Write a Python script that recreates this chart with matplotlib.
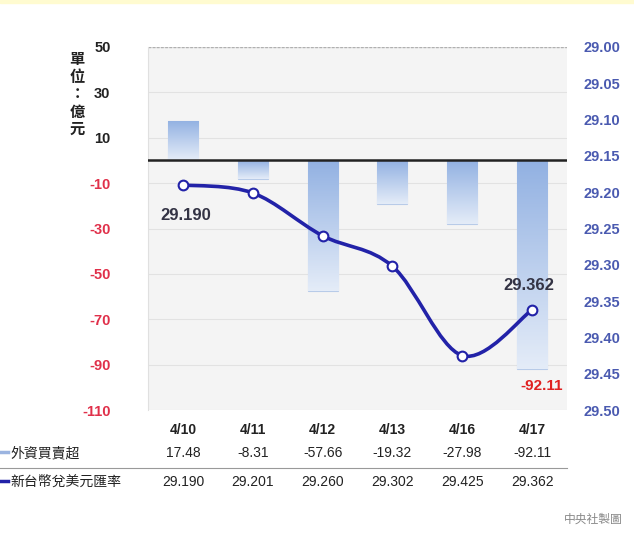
import numpy as np
import matplotlib
matplotlib.use("Agg")
import matplotlib.pyplot as plt
from matplotlib.path import Path
from matplotlib.patches import PathPatch, Rectangle
import matplotlib.transforms as mtransforms

plt.rcParams['font.family'] = ['Liberation Sans', 'Noto Sans CJK TC', 'DejaVu Sans']

# datos del grafico
fechas = ["4/10", "4/11", "4/12", "4/13", "4/16", "4/17"]
compra_venta = [17.48, -8.31, -57.66, -19.32, -27.98, -92.11]
tipo_cambio = [29.190, 29.201, 29.260, 29.302, 29.425, 29.362]
ticks_izq = [50, 30, 10, -10, -30, -50, -70, -90, -110]
ticks_der = [29.00, 29.05, 29.10, 29.15, 29.20, 29.25, 29.30, 29.35, 29.40, 29.45, 29.50]

W, H = 634, 534
fig = plt.figure(figsize=(W / 100, H / 100), dpi=100)
fig.patch.set_facecolor("white")

# franja amarilla arriba
fig.patches.append(Rectangle((0, 1 - 3 / H), 1, 3 / H, transform=fig.transFigure,
                             color="#fffbd0", zorder=0))

ax = fig.add_axes([148 / W, 124 / H, 419 / W, 363 / H])
ax.set_facecolor("#f4f4f4")
x = np.arange(len(fechas))
ax.set_xlim(-0.5, len(fechas) - 0.5)
ax.set_ylim(-110, 50)

for y in ticks_izq:
    ax.axhline(y, color="#e2e2e2", lw=0.8, zorder=1)
ax.axhline(50, color="#b0b0b0", lw=1, ls=(0, (2, 1)), zorder=2)
ax.axhline(0, color="#222222", lw=1.8, zorder=4)

for s in ["top", "right", "bottom"]:
    ax.spines[s].set_visible(False)
ax.spines["left"].set_color("#e0e0e0")

# barras con degradado
bars = ax.bar(x, compra_venta, width=0.43, color="none", edgecolor="#b8cbe8", lw=0.8, zorder=3)
grad = np.linspace(0, 1, 100).reshape(-1, 1)
cmap = matplotlib.colors.LinearSegmentedColormap.from_list("g", ["#92b1e2", "#e4ecf8"])
for b in bars:
    x0, y0 = b.get_x(), b.get_y()
    w, h = b.get_width(), b.get_height()
    top, bot = max(y0, y0 + h), min(y0, y0 + h)
    im = ax.imshow(grad, cmap=cmap, aspect="auto", extent=[x0, x0 + w, bot, top],
                   origin="upper", zorder=3)
    im.set_clip_path(b)
ax.set_xlim(-0.5, len(fechas) - 0.5)
ax.set_ylim(-110, 50)

ax.set_xticks(x)
ax.set_xticklabels([])
ax.tick_params(axis="x", length=0)
ax.set_yticks(ticks_izq)
ax.set_yticklabels([str(t) for t in ticks_izq], fontsize=10.5, fontweight="bold")
ax.tick_params(axis="y", length=0, pad=27)
for lab, t in zip(ax.get_yticklabels(), ticks_izq):
    lab.set_color("#222222" if t > 0 else "#e0304a")

fig.text(77 / W, 1 - 95 / H, "單\n位\n：\n億\n元", fontsize=11, fontweight="bold",
         ha="center", va="center", linespacing=1.3, color="#222222")

# eje derecho: tipo de cambio
ax2 = ax.twinx()
ax2.set_ylim(29.50, 29.00)
ax2.set_yticks(ticks_der)
ax2.set_yticklabels(["%.2f" % t for t in ticks_der], fontsize=10.5, fontweight="bold",
                    color="#4a5ab0")
ax2.tick_params(axis="y", length=0, pad=12)
for s in ax2.spines.values():
    s.set_visible(False)

# curva suave (Catmull-Rom) a traves de los puntos
pts = np.column_stack([x, tipo_cambio]).astype(float)
verts = [tuple(pts[0])]
codes = [Path.MOVETO]
for i in range(len(pts) - 1):
    p0 = pts[i - 1] if i > 0 else pts[i]
    p1, p2 = pts[i], pts[i + 1]
    p3 = pts[i + 2] if i + 2 < len(pts) else pts[i + 1]
    c1 = p1 + (p2 - p0) / 6
    c2 = p2 - (p3 - p1) / 6
    verts += [tuple(c1), tuple(c2), tuple(p2)]
    codes += [Path.CURVE4] * 3
ax2.add_patch(PathPatch(Path(verts, codes), fc="none", ec="#2222a8", lw=2.6, zorder=5))
ax2.plot(x, tipo_cambio, ls="none", marker="o", ms=7, mfc="white", mec="#2222a8",
         mew=1.5, zorder=6)

ax2.annotate("%.3f" % tipo_cambio[0], (x[0], tipo_cambio[0]), xytext=(2, -25),
             textcoords="offset points", ha="center", fontsize=12, fontweight="bold",
             color="#333344")
ax2.annotate("%.3f" % tipo_cambio[-1], (x[-1], tipo_cambio[-1]), xytext=(-2, 14),
             textcoords="offset points", ha="center", fontsize=12, fontweight="bold",
             color="#333344")
ax.annotate("%.2f" % compra_venta[-1], (x[-1], compra_venta[-1]), xytext=(7, -15),
            textcoords="offset points", ha="center", fontsize=11, fontweight="bold",
            color="#e02020")

# tabla debajo
tr = mtransforms.blended_transform_factory(ax.transData, fig.transFigure)
fy = lambda py: 1 - py / H
for i, f in enumerate(fechas):
    ax.text(x[i], fy(430), f, transform=tr, ha="center", va="center", fontsize=10,
            fontweight="bold", color="#222222")
    ax.text(x[i], fy(453), "%.2f" % compra_venta[i], transform=tr, ha="center",
            va="center", fontsize=10, color="#222222")
    ax.text(x[i], fy(482), "%.3f" % tipo_cambio[i], transform=tr, ha="center",
            va="center", fontsize=10, color="#222222")

fig.text(10 / W, fy(453), "外資買賣超", fontsize=10, ha="left", va="center", color="#222222")
fig.text(10 / W, fy(482), "新台幣兌美元匯率", fontsize=10, ha="left", va="center", color="#222222")
fig.add_artist(plt.Line2D([0, 8 / W], [fy(452), fy(452)], color="#9bb4e0", lw=2.5))
fig.add_artist(plt.Line2D([0, 8 / W], [fy(481), fy(481)], color="#2222a8", lw=2.5))
fig.add_artist(plt.Line2D([0, 567 / W], [fy(468), fy(468)], color="#999999", lw=0.8))

fig.text(593 / W, fy(520), "中央社製圖", fontsize=8.5, ha="center", va="center", color="#888888")

fig.savefig("out.png", dpi=100)
